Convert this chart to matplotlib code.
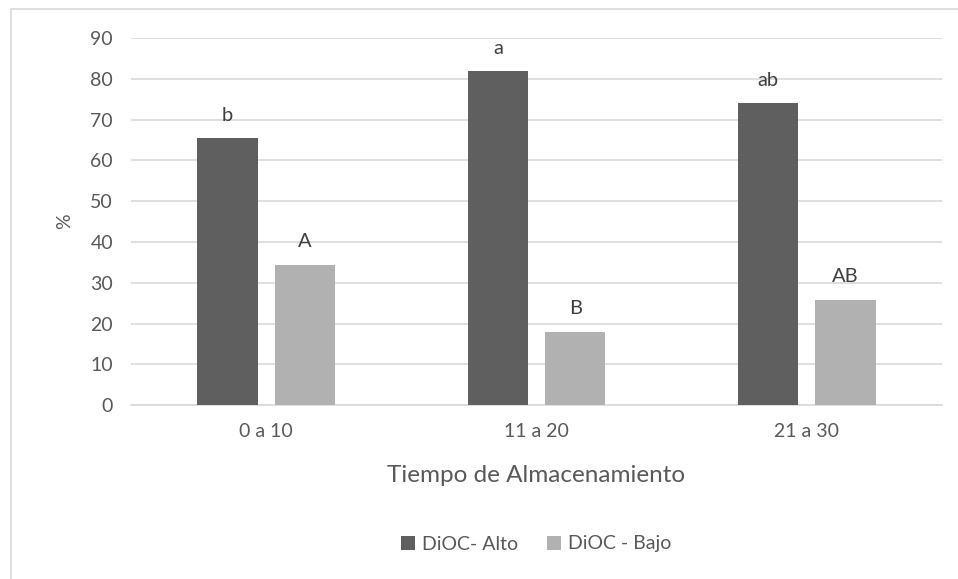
import matplotlib
matplotlib.use("Agg")
import matplotlib.pyplot as plt
from matplotlib.patches import Rectangle
import numpy as np

categories = ["0 a 10", "11 a 20", "21 a 30"]
alto = [65.4, 81.9, 74.0]
bajo = [34.5, 18.0, 25.9]
alto_letters = ["b", "a", "ab"]
bajo_letters = ["A", "B", "AB"]
series_names = ["DiOC- Alto", "DiOC - Bajo"]
yticks = [0, 10, 20, 30, 40, 50, 60, 70, 80, 90]

plt.rcParams['font.family'] = ['Lato', 'DejaVu Sans']
TXT = '#595959'
DARK = '#5f5f5f'
LIGHT = '#b1b1b1'
GRID = '#d9d9d9'

fig = plt.figure(figsize=(9.58, 5.79), dpi=100)
W, H = 958, 579
ax = fig.add_axes([131 / W, 1 - 405.3 / H, (942 - 131) / W, (405.3 - 38) / H])

x = np.arange(len(categories))
bw = 0.224
off = 0.143
b1 = ax.bar(x - off, alto, bw, color=DARK, label=series_names[0], zorder=3)
b2 = ax.bar(x + off, bajo, bw, color=LIGHT, label=series_names[1], zorder=3)

for rects, letters in ((b1, alto_letters), (b2, bajo_letters)):
    for r, lab in zip(rects, letters):
        ax.annotate(lab, (r.get_x() + r.get_width() / 2, r.get_height()),
                    xytext=(0, 12.5), textcoords='offset points',
                    ha='center', va='baseline', fontsize=14.5, color='#404040')

ax.set_xlim(-0.5, len(categories) - 0.5)
ax.set_ylim(0, 90)
ax.set_yticks(yticks)
ax.set_xticks(x)
ax.set_xticklabels(categories)
ax.yaxis.grid(True, color=GRID, linewidth=1.2, zorder=0)
ax.set_axisbelow(True)
for s in ['top', 'right', 'left']:
    ax.spines[s].set_visible(False)
ax.spines['bottom'].set_color(GRID)
ax.spines['bottom'].set_linewidth(1.2)
ax.tick_params(axis='both', length=0, labelsize=14, labelcolor=TXT)
ax.tick_params(axis='y', pad=13)
ax.tick_params(axis='x', pad=13)

ax.set_ylabel('%', fontsize=14, color=TXT, labelpad=12)
fig.text(536.5 / W, 1 - 476 / H, 'Tiempo de Almacenamiento', ha='center', va='center',
         fontsize=17.5, color=TXT)

leg = fig.legend(handles=[b1, b2], labels=series_names, loc='center',
                 bbox_to_anchor=(536.5 / W, 1 - 544 / H), ncol=2, frameon=False,
                 fontsize=14, handlelength=0.72, handleheight=0.72,
                 handletextpad=0.35, columnspacing=1.5)
for t in leg.get_texts():
    t.set_color(TXT)

fig.patches.append(Rectangle((11 / W, -0.1), 2, 1 - 9 / H + 0.1, transform=fig.transFigure,
                             fill=False, edgecolor=GRID, linewidth=1.2))

fig.savefig('out.png', dpi=100)
